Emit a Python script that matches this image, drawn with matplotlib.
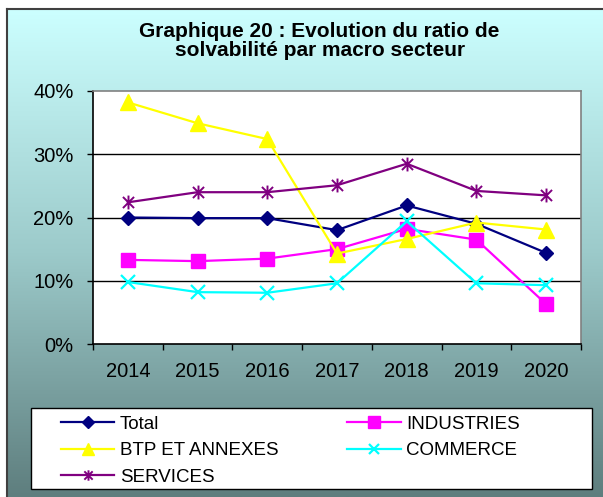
import numpy as np
import matplotlib
matplotlib.use("Agg")
import matplotlib.pyplot as plt
from matplotlib.path import Path
from matplotlib.patches import Rectangle
from matplotlib.colors import LinearSegmentedColormap

plt.rcParams['font.family'] = ['Liberation Sans', 'DejaVu Sans']

years = ["2014", "2015", "2016", "2017", "2018", "2019", "2020"]
total = [20.0, 19.9, 19.9, 18.0, 21.9, 19.0, 14.4]
industries = [13.3, 13.1, 13.5, 15.0, 18.2, 16.5, 6.3]
btp = [38.2, 34.9, 32.4, 14.3, 16.6, 19.2, 18.1]
commerce = [9.8, 8.2, 8.1, 9.6, 19.4, 9.6, 9.3]
services = [22.4, 24.0, 24.0, 25.1, 28.5, 24.2, 23.5]
yticks = [0, 10, 20, 30, 40]
ytick_labels = ["0%", "10%", "20%", "30%", "40%"]

W, H = 603, 497
fig = plt.figure(figsize=(W / 100, H / 100), dpi=100)
fig.patch.set_facecolor("white")

# gradient background
bg = fig.add_axes([7 / W, 0, 1 - 7 / W, (H - 9) / H])
cmap = LinearSegmentedColormap.from_list("bg", ["#CCFFFF", "#9CCACA", "#5E7E7E"])
grad = np.linspace(0, 1, 256).reshape(-1, 1)
bg.imshow(grad, aspect="auto", cmap=cmap, extent=[0, 1, 0, 1], origin="upper")
bg.set_xlim(0, 1)
bg.set_ylim(0, 1)
for s in ["right", "bottom"]:
    bg.spines[s].set_visible(False)
for s in ["left", "top"]:
    bg.spines[s].set_color("#404040")
    bg.spines[s].set_linewidth(1.5)
bg.set_xticks([])
bg.set_yticks([])
bg.set_zorder(0)

# legend box
fig.patches.append(Rectangle((31 / W, (H - 489) / H), (592 - 31) / W, (489 - 408) / H,
                             transform=fig.transFigure, facecolor="white", edgecolor="black",
                             lw=1.0, zorder=1))

L, R, T, B = 93, 581, 91, 344
ax = fig.add_axes([L / W, (H - B) / H, (R - L) / W, (B - T) / H])
ax.set_zorder(2)
ax.set_facecolor("white")
x = np.arange(len(years))

lw = 1.6
ax.plot(x, total, color="#000080", lw=lw, marker="D", ms=7.5, mfc="#000080", mec="#000080", label="Total", zorder=3)
ax.plot(x, industries, color="#FF00FF", lw=lw, marker="s", ms=10.5, mfc="#FF00FF", mec="#FF00FF", label="INDUSTRIES", zorder=3)
ax.plot(x, btp, color="#FFFF00", lw=lw, marker="^", ms=11, mfc="#FFFF00", mec="#FFFF00", label="BTP ET ANNEXES", zorder=3)
ax.plot(x, commerce, color="#00FFFF", lw=lw, marker="x", ms=9.5, mew=1.6, label="COMMERCE", zorder=3)
ast = Path([(0, -1), (0, 1), (-0.8, -0.8), (0.8, 0.8), (-0.8, 0.8), (0.8, -0.8)],
           [Path.MOVETO, Path.LINETO, Path.MOVETO, Path.LINETO, Path.MOVETO, Path.LINETO])
ax.plot(x, services, color="#800080", lw=lw, marker=ast, ms=10, mew=1.4, mfc="none", mec="#800080", label="SERVICES", zorder=3)

ax.set_xlim(-0.5, len(years) - 0.5)
ax.set_ylim(0, 40)
ax.set_yticks(yticks)
ax.set_yticklabels(ytick_labels, fontsize=14.5)
ax.set_xticks(x)
ax.set_xticklabels(years, fontsize=14.5)
ax.set_xticks(np.arange(-0.5, len(years)), minor=True)
ax.tick_params(axis="x", which="major", length=0, pad=13)
ax.tick_params(axis="x", which="minor", length=4, width=1, direction="out")
ax.tick_params(axis="y", length=4, width=1, direction="out", pad=10)
for v in yticks[1:-1]:
    ax.axhline(v, color="black", lw=1, zorder=1)
ax.spines["left"].set_color("black")
ax.spines["bottom"].set_color("black")
ax.spines["top"].set_color("#808080")
ax.spines["right"].set_color("#808080")
for s in ax.spines.values():
    s.set_linewidth(1.2)

fig.text(0.530, 1 - 41 / H, "Graphique 20 : Evolution du ratio de\nsolvabilité par macro secteur",
         ha="center", va="center", fontsize=15, fontweight="bold", linespacing=1.05)

h, l = ax.get_legend_handles_labels()
order = [0, 2, 4, 1, 3]
leg = fig.legend([h[i] for i in order], [l[i] for i in order],
                 loc="upper left", bbox_to_anchor=(61 / W, (H - 415.5) / H),
                 ncol=2, fontsize=13.5, frameon=False, borderaxespad=0, borderpad=0,
                 handlelength=2.85, handletextpad=0.3, labelspacing=0.5, columnspacing=3.65)
leg.set_zorder(3)
small = {"Total": 6, "INDUSTRIES": 8, "BTP ET ANNEXES": 8.5, "COMMERCE": 7, "SERVICES": 7.5}
for lh, txt in zip(leg.legend_handles, leg.get_texts()):
    lh.set_markersize(small[txt.get_text()])

fig.savefig("out.png", dpi=100)
